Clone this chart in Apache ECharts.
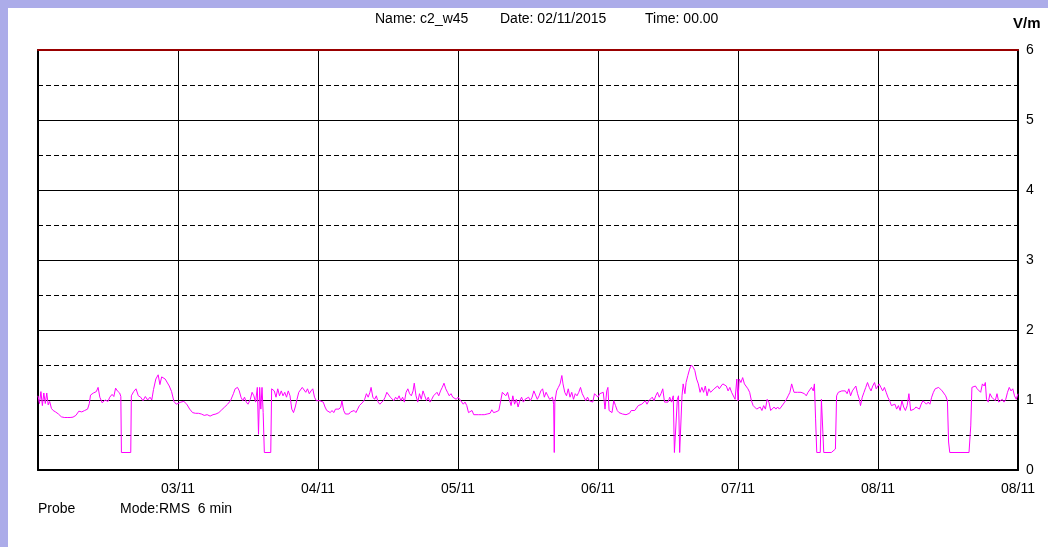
<!DOCTYPE html>
<html>
<head>
<meta charset="utf-8">
<script src="https://cdn.jsdelivr.net/npm/echarts@6/dist/echarts.min.js"></script>
<style>
html,body{margin:0;padding:0;background:#fff;}
#chart{width:1048px;height:547px;}
</style>
</head>
<body>
<div id="chart"></div>
<script>
// x tick labels (one per day boundary, hours 0..168)
const tickLabels = ['', '03/11', '04/11', '05/11', '06/11', '07/11', '08/11', '08/11'];
const yTicks = [0, 1, 2, 3, 4, 5, 6];
// readings per day: [hour of day, V/m]
const day1 = [[0,1.06],[0.25,0.95],[0.5,1.12],[0.75,0.92],[1,1.1],[1.25,0.95],[1.5,1.1],[1.75,0.93],[2,0.98],[2.3,0.88],[2.6,0.85],[3,0.83],[3.5,0.8],[4,0.76],[4.5,0.75],[5,0.75],[5.5,0.75],[6,0.755],[6.5,0.78],[7,0.84],[7.5,0.83],[8,0.85],[8.5,0.87],[8.8,0.95],[9,1.07],[9.5,1.1],[10,1.12],[10.3,1.18],[10.6,1.04],[11,0.96],[11.5,1.0],[12,0.98],[12.3,1.04],[12.7,1.08],[13,1.05],[13.3,1.17],[13.6,1.13],[14,1.1],[14.2,1.05],[14.3,0.25],[14.4,0.25],[15.9,0.25],[16.0,1.06],[16.4,1.12],[16.8,1.16],[17.2,1.06],[17.6,1.04],[18,0.99],[18.4,1.05],[18.8,1.0],[19.2,1.04],[19.5,1.0],[19.8,1.15],[20.2,1.3],[20.6,1.36],[20.9,1.22],[21.2,1.33],[21.5,1.35],[21.8,1.3],[22.1,1.32],[22.5,1.2],[22.9,1.12],[23.3,0.98],[23.7,0.94]];
const day2 = [[0,0.94],[0.5,0.97],[1,0.98],[1.5,0.94],[2,0.87],[2.5,0.82],[3,0.81],[3.5,0.81],[4,0.8],[4.5,0.78],[5,0.79],[5.5,0.77],[6,0.79],[6.5,0.8],[7,0.82],[7.5,0.86],[8,0.9],[8.5,0.94],[9,0.99],[9.5,1.09],[9.8,1.16],[10.2,1.18],[10.5,1.13],[10.8,1.04],[11.1,0.99],[11.4,1.04],[11.7,0.97],[12,0.94],[12.4,1.01],[12.7,1.11],[13,1.06],[13.3,0.97],[13.6,1.18],[13.8,0.51],[14.0,1.18],[14.2,0.87],[14.4,1.18],[14.6,0.82],[14.8,0.25],[15.9,0.25],[16.05,1.16],[16.5,1.13],[16.8,1.04],[17.1,1.16],[17.4,1.06],[17.7,1.13],[18,1.06],[18.3,1.11],[18.6,1.04],[18.9,1.13],[19.2,1.06],[19.5,0.87],[19.8,0.82],[20.1,0.9],[20.4,1.01],[20.7,1.11],[21,1.13],[21.3,1.18],[21.6,1.2],[21.9,1.11],[22.2,1.16],[22.5,1.09],[22.8,1.13],[23.1,1.16],[23.4,1.04],[23.7,0.99]];
const day3 = [[0,1.01],[0.3,0.99],[0.6,1.01],[0.9,0.97],[1.2,0.9],[1.5,0.85],[1.8,0.87],[2.1,0.82],[2.4,0.85],[2.7,0.82],[3,0.87],[3.3,0.85],[3.6,0.87],[3.9,0.9],[4.1,0.99],[4.4,0.85],[4.7,0.8],[5,0.82],[5.3,0.8],[5.6,0.83],[5.9,0.81],[6.2,0.85],[6.5,0.82],[6.8,0.87],[7.1,0.92],[7.4,0.9],[7.7,0.97],[8,1.01],[8.3,1.09],[8.6,1.04],[8.9,1.11],[9.1,1.18],[9.4,1.04],[9.7,1.01],[10,1.06],[10.3,0.97],[10.6,0.94],[10.9,0.94],[11.2,0.99],[11.5,1.04],[11.8,1.11],[12.1,1.13],[12.4,1.04],[12.7,1.06],[13,0.99],[13.3,1.04],[13.6,1.01],[13.9,1.06],[14.2,0.99],[14.5,1.04],[14.8,0.97],[15.1,1.11],[15.4,1.16],[15.7,1.09],[16,1.06],[16.3,1.13],[16.5,1.24],[16.8,1.06],[17.1,0.97],[17.4,1.09],[17.7,1.01],[18,1.13],[18.3,1.06],[18.6,0.99],[18.9,1.04],[19.2,0.97],[19.5,1.01],[19.8,1.06],[20.1,1.04],[20.4,1.11],[20.7,1.06],[21,1.13],[21.3,1.18],[21.6,1.24],[21.9,1.16],[22.2,1.11],[22.5,1.06],[22.8,1.09],[23.1,1.04],[23.4,1.06],[23.7,1.01]];
const day4 = [[0,1.04],[0.3,1.01],[0.6,0.99],[0.9,0.94],[1.2,0.97],[1.5,0.92],[1.8,0.82],[2.1,0.8],[2.4,0.85],[2.7,0.79],[3,0.8],[3.5,0.79],[4,0.79],[4.5,0.79],[5,0.8],[5.5,0.81],[5.8,0.86],[6.1,0.82],[6.5,0.83],[7,0.85],[7.3,0.87],[7.6,1.11],[7.9,1.13],[8.2,1.06],[8.5,1.11],[8.8,1.01],[9.1,0.92],[9.4,1.06],[9.7,0.94],[10,1.01],[10.3,0.9],[10.6,0.99],[10.9,1.04],[11.2,0.97],[11.5,1.01],[11.8,0.99],[12.1,1.04],[12.4,0.99],[12.7,1.04],[13,1.13],[13.3,1.11],[13.6,1.01],[13.9,1.06],[14.2,1.13],[14.5,1.16],[14.8,1.04],[15.1,1.11],[15.4,1.06],[15.7,1.01],[16,0.99],[16.2,1.04],[16.4,0.94],[16.5,0.25],[16.6,0.97],[16.9,1.13],[17.2,1.18],[17.5,1.23],[17.8,1.35],[18,1.23],[18.3,1.11],[18.6,1.06],[18.9,1.16],[19.2,1.04],[19.5,1.11],[19.8,1.01],[20.1,1.09],[20.4,1.06],[20.7,1.11],[21,1.18],[21.3,1.09],[21.6,1.04],[21.9,0.99],[22.2,1.04],[22.5,0.99],[22.8,1.01],[23.1,0.97],[23.4,1.09],[23.7,1.11]];
const day5 = [[0,1.04],[0.3,1.09],[0.6,1.11],[0.9,1.11],[1.2,0.87],[1.5,1.13],[1.7,1.18],[1.9,0.85],[2.2,0.87],[2.4,0.82],[2.7,0.99],[3,0.92],[3.3,0.85],[3.6,0.82],[3.9,0.82],[4.2,0.8],[4.5,0.8],[4.8,0.79],[5.1,0.8],[5.4,0.81],[5.7,0.85],[6,0.87],[6.3,0.85],[6.6,0.87],[6.9,0.92],[7.2,0.9],[7.5,0.94],[7.8,0.92],[8.1,0.99],[8.4,0.94],[8.7,0.99],[9,0.97],[9.3,1.04],[9.6,0.99],[9.9,1.06],[10.2,1.11],[10.5,1.04],[10.8,1.09],[11.1,1.16],[11.4,0.97],[11.7,0.99],[12,0.97],[12.3,1.04],[12.6,0.97],[12.9,1.06],[13.1,0.25],[13.4,0.25],[13.6,1.01],[13.8,1.06],[14,0.25],[14.2,0.25],[14.4,1.06],[14.6,1.23],[14.9,1.09],[15.1,1.25],[15.4,1.35],[15.7,1.44],[16,1.5],[16.3,1.47],[16.6,1.42],[16.9,1.3],[17.2,1.23],[17.5,1.11],[17.8,1.18],[18.1,1.11],[18.4,1.2],[18.7,1.06],[19,1.16],[19.3,1.11],[19.6,1.13],[19.9,1.16],[20.2,1.18],[20.5,1.2],[20.8,1.16],[21.1,1.2],[21.4,1.23],[21.7,1.25],[22,1.2],[22.3,1.13],[22.6,1.18],[22.9,1.11],[23.2,1.13],[23.5,1.01],[23.8,1.3]];
const day6 = [[0,0.99],[0.2,1.3],[0.5,1.25],[0.8,1.32],[1.1,1.23],[1.4,1.25],[1.7,1.16],[2,1.11],[2.3,0.99],[2.6,0.92],[2.9,0.9],[3.2,0.87],[3.5,0.87],[3.8,0.9],[4.1,0.85],[4.4,0.92],[4.7,0.87],[5,1.01],[5.3,0.97],[5.6,0.85],[5.9,0.87],[6.2,0.9],[6.5,0.87],[6.8,0.9],[7.1,0.87],[7.4,0.9],[7.7,0.92],[8,0.97],[8.3,1.01],[8.6,1.06],[8.9,1.11],[9.2,1.23],[9.4,1.25],[9.6,1.11],[9.9,1.13],[10.2,1.11],[10.5,1.13],[10.8,1.11],[11.1,1.13],[11.4,1.09],[11.7,1.06],[12,1.11],[12.3,1.13],[12.6,1.18],[12.9,1.13],[13.1,1.23],[13.3,0.73],[13.5,0.25],[14.1,0.25],[14.3,1.01],[14.5,0.99],[14.7,0.25],[16,0.25],[16.7,0.3],[16.9,1.06],[17.2,1.11],[17.5,1.09],[17.8,1.13],[18.1,1.11],[18.4,1.13],[18.7,1.09],[19,1.16],[19.3,1.06],[19.6,1.13],[19.9,1.11],[20.2,1.2],[20.5,1.09],[20.8,1.01],[21,0.92],[21.3,1.04],[21.6,1.11],[21.9,1.18],[22.2,1.25],[22.5,1.18],[22.8,1.13],[23.1,1.2],[23.4,1.25],[23.7,1.16]];
const day7 = [[0,1.16],[0.2,1.23],[0.5,1.18],[0.8,1.13],[1.1,1.18],[1.4,1.11],[1.7,1.04],[2,0.99],[2.3,0.92],[2.6,0.9],[2.9,0.94],[3.2,0.87],[3.5,0.92],[3.8,0.85],[4.1,0.99],[4.4,0.9],[4.7,0.85],[5,0.92],[5.3,1.09],[5.6,0.85],[5.9,0.87],[6.2,0.87],[6.5,0.9],[6.8,0.92],[7.1,0.87],[7.4,0.94],[7.7,0.99],[8,0.97],[8.3,0.94],[8.6,0.97],[8.9,0.94],[9.2,1.04],[9.5,1.11],[9.8,1.16],[10.1,1.18],[10.4,1.18],[10.7,1.16],[11,1.13],[11.3,1.11],[11.6,1.06],[11.9,0.99],[12.1,0.4],[12.3,0.25],[15.6,0.25],[15.9,0.63],[16.1,1.18],[16.4,1.16],[16.7,1.2],[17,1.16],[17.3,1.18],[17.6,1.11],[17.9,1.23],[18.2,1.2],[18.4,1.25],[18.6,1.01],[18.9,0.97],[19.2,1.09],[19.5,1.04],[19.8,1.06],[20.1,0.99],[20.4,1.09],[20.7,0.97],[21,0.99],[21.3,1.01],[21.6,0.97],[21.9,1.01],[22.2,1.11],[22.5,1.18],[22.8,1.13],[23.1,1.16],[23.4,1.06],[23.7,1.01],[24,1.09]];

const days = [day1, day2, day3, day4, day5, day6, day7];
const seriesData = [];
days.forEach((d, i) => d.forEach(p => seriesData.push([i * 24 + p[0], p[1]])));

const FONT = '"Liberation Sans", Arial, sans-serif';
const chart = echarts.init(document.getElementById('chart'), null, {renderer: 'canvas'});
chart.setOption({
  backgroundColor: '#ffffff',
  animation: false,
  grid: {left: 38, right: 30, top: 50, bottom: 77, show: false},
  xAxis: [{
    type: 'value', min: 0, max: 168, interval: 24, position: 'bottom',
    axisLine: {show: true, onZero: false, lineStyle: {color: '#000', width: 2}},
    axisTick: {show: false},
    axisLabel: {color: '#000', fontFamily: FONT, fontSize: 14, margin: 12,
      formatter: v => tickLabels[Math.round(v / 24)] || ''},
    splitLine: {show: true, lineStyle: {color: '#000', width: 1}}
  }, {
    type: 'value', min: 0, max: 168, position: 'top',
    axisLine: {show: true, onZero: false, lineStyle: {color: '#990000', width: 2}},
    axisTick: {show: false}, axisLabel: {show: false}, splitLine: {show: false}
  }],
  yAxis: [{
    type: 'value', min: 0, max: 6, interval: 1, position: 'right',
    axisLine: {show: true, onZero: false, lineStyle: {color: '#000', width: 2}},
    axisTick: {show: false},
    axisLabel: {color: '#000', fontFamily: FONT, fontSize: 14, margin: 8,
      formatter: v => yTicks.indexOf(v) >= 0 ? String(v) : ''},
    splitLine: {show: true, lineStyle: {color: '#000', width: 1}},
    minorTick: {show: false, splitNumber: 2},
    minorSplitLine: {show: true, lineStyle: {color: '#000', width: 1, type: [5, 3]}}
  }, {
    type: 'value', min: 0, max: 6, position: 'left',
    axisLine: {show: true, onZero: false, lineStyle: {color: '#000', width: 2}},
    axisTick: {show: false}, axisLabel: {show: false}, splitLine: {show: false}
  }],
  series: [{
    type: 'line', xAxisIndex: 0, yAxisIndex: 0,
    data: seriesData, showSymbol: false, symbol: 'none',
    lineStyle: {color: '#ff00ff', width: 1}, z: 3
  }],
  graphic: [
    {type: 'rect', left: 0, top: 0, shape: {width: 1048, height: 8}, style: {fill: '#acace9'}, z: 100},
    {type: 'rect', left: 0, top: 0, shape: {width: 8, height: 547}, style: {fill: '#acace9'}, z: 100},
    {type: 'text', x: 375, y: 19, style: {text: 'Name: c2_w45', font: '14px ' + FONT, fill: '#000', verticalAlign: 'middle'}},
    {type: 'text', x: 500, y: 19, style: {text: 'Date: 02/11/2015', font: '14px ' + FONT, fill: '#000', verticalAlign: 'middle'}},
    {type: 'text', x: 645, y: 19, style: {text: 'Time: 00.00', font: '14px ' + FONT, fill: '#000', verticalAlign: 'middle'}},
    {type: 'text', x: 1013, y: 24, style: {text: 'V/m', font: 'bold 15px ' + FONT, fill: '#000', verticalAlign: 'middle'}},
    {type: 'text', x: 38, y: 509, style: {text: 'Probe', font: '14px ' + FONT, fill: '#000', verticalAlign: 'middle'}},
    {type: 'text', x: 120, y: 509, style: {text: 'Mode:RMS  6 min', font: '14px ' + FONT, fill: '#000', verticalAlign: 'middle'}}
  ]
});
</script>
</body>
</html>
